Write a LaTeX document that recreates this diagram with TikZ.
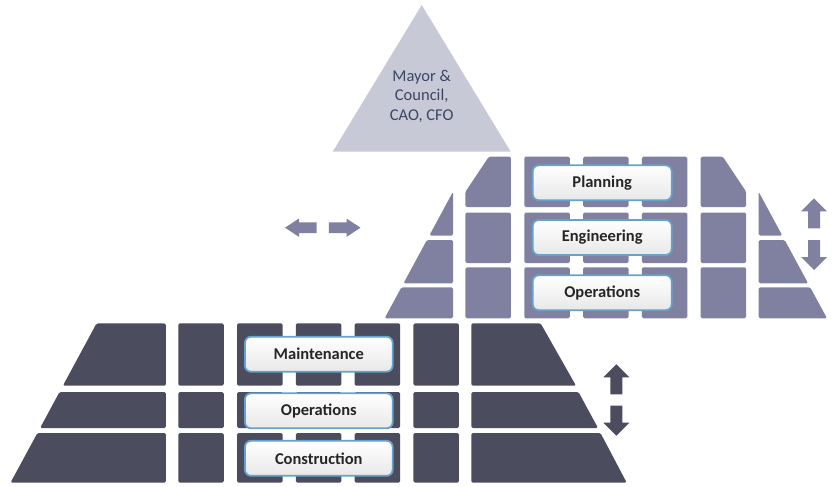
\documentclass[tikz,border=0pt]{standalone}
\usepackage{fontspec}
\setmainfont{Carlito}

\definecolor{topgrid}{HTML}{8081A0}
\definecolor{basegrid}{HTML}{4B4C5E}
\definecolor{council}{HTML}{C8C9D6}
\definecolor{councilText}{HTML}{3A4664}
\definecolor{boxline}{HTML}{66A2CA}

\tikzset{
  cell/.style={rounded corners=1.5pt},
  level/.style={draw=boxline, line width=1.8pt, rounded corners=6pt,
    top color=white, bottom color=black!9, minimum height=35pt,
    font=\bfseries\fontsize{16.5}{19}\selectfont, text=black!85},
  sidearrow/.pic={\fill (0,-5.3) -- (17.7,-5.3) -- (17.7,-9.2) -- (31.7,0)
    -- (17.7,9.2) -- (17.7,5.3) -- (0,5.3) -- cycle;},
  levelarrow/.pic={\fill (0,-6) -- (17,-6) -- (17,-13) -- (30,0)
    -- (17,13) -- (17,6) -- (0,6) -- cycle;}
}

\begin{document}
\begin{tikzpicture}[x=1pt,y=-1pt]
\useasboundingbox (0,0) rectangle (833,487);

% council on top
\fill[council] (421.7,5) -- (510.7,151.7) -- (332.7,151.7) -- cycle;
\node[align=center, text=councilText, font=\fontsize{16.5}{19.5}\selectfont] (mayor) at (421.7,96) {Mayor \&\\Council,\\CAO, CFO};

% upper block
\foreach \k in {-1,0,1}
  \fill[cell, topgrid] ({605.8+\k*58.8-22.75},156.7) rectangle ++(45.5,50.3);
\foreach \k in {-2,...,2}{
  \fill[cell, topgrid] ({605.8+\k*58.8-22.75},212.5) rectangle ++(45.5,50.5);
  \fill[cell, topgrid] ({605.8+\k*58.8-22.75},267.3) rectangle ++(45.5,51);
}
\fill[cell, topgrid] (465.45,207) -- (465.45,191.7) -- (488.8,156.7) -- (510.95,156.7) -- (510.95,207) -- cycle;
\fill[cell, topgrid] (700.65,207) -- (700.65,156.7) -- (722.8,156.7) -- (746.15,191.7) -- (746.15,207) -- cycle;
\fill[cell, topgrid] (453,191.7) -- (453,235.5) -- (429.35,235.5) -- cycle;
\fill[cell, topgrid] (758.6,191.7) -- (758.6,235.5) -- (782.25,235.5) -- cycle;
\fill[cell, topgrid] (426.9,240) -- (453,240) -- (453,283.3) -- (403.5,283.3) -- cycle;
\fill[cell, topgrid] (784.7,240) -- (758.6,240) -- (758.6,283.3) -- (808.1,283.3) -- cycle;
\fill[cell, topgrid] (401.4,287.3) -- (453,287.3) -- (453,318.3) -- (384.6,318.3) -- cycle;
\fill[cell, topgrid] (810.2,287.3) -- (758.6,287.3) -- (758.6,318.3) -- (827,318.3) -- cycle;

\node[level, minimum width=139pt] (plan) at (602.2,182.8) {Planning};
\node[level, minimum width=139pt] (eng) at (602.2,237.5) {Engineering};
\node[level, minimum width=139pt] (opsup) at (602.2,292.7) {Operations};

% lower block
\foreach \k in {-2,...,2}{
  \fill[cell, basegrid] ({318.6+\k*58.8-22.75},323.3) rectangle ++(45.5,62.4);
  \fill[cell, basegrid] ({318.6+\k*58.8-22.75},392) rectangle ++(45.5,36);
  \fill[cell, basegrid] ({318.6+\k*58.8-22.75},433) rectangle ++(45.5,49.7);
}
\fill[cell, basegrid] (96.6,323.3) -- (165.8,323.3) -- (165.8,385.7) -- (62.9,385.7) -- cycle;
\fill[cell, basegrid] (540.6,323.3) -- (471.4,323.3) -- (471.4,385.7) -- (576,385.7) -- cycle;
\fill[cell, basegrid] (59.5,392) -- (165.8,392) -- (165.8,428) -- (40.1,428) -- cycle;
\fill[cell, basegrid] (578.5,392) -- (471.4,392) -- (471.4,428) -- (598,428) -- cycle;
\fill[cell, basegrid] (37.4,433) -- (165.8,433) -- (165.8,482.7) -- (10.5,482.7) -- cycle;
\fill[cell, basegrid] (600.5,433) -- (471.4,433) -- (471.4,482.7) -- (626.7,482.7) -- cycle;

\node[level, minimum width=147.7pt] (maint) at (318.8,354.2) {Maintenance};
\node[level, minimum width=147.7pt] (ops) at (318.8,410.8) {Operations};
\node[level, minimum width=147.7pt] (constr) at (318.8,458.3) {Construction};

% arrows
\pic[fill=topgrid, rotate=180] at (316.7,227.7) {sidearrow};
\pic[fill=topgrid] at (328.8,227.7) {sidearrow};
\pic[fill=topgrid, rotate=90] at (814,228.3) {levelarrow};
\pic[fill=topgrid, rotate=-90] at (814,240) {levelarrow};
\pic[fill=basegrid, rotate=90] at (616.3,394.3) {levelarrow};
\pic[fill=basegrid, rotate=-90] at (616.3,405.7) {levelarrow};
\end{tikzpicture}
\end{document}
